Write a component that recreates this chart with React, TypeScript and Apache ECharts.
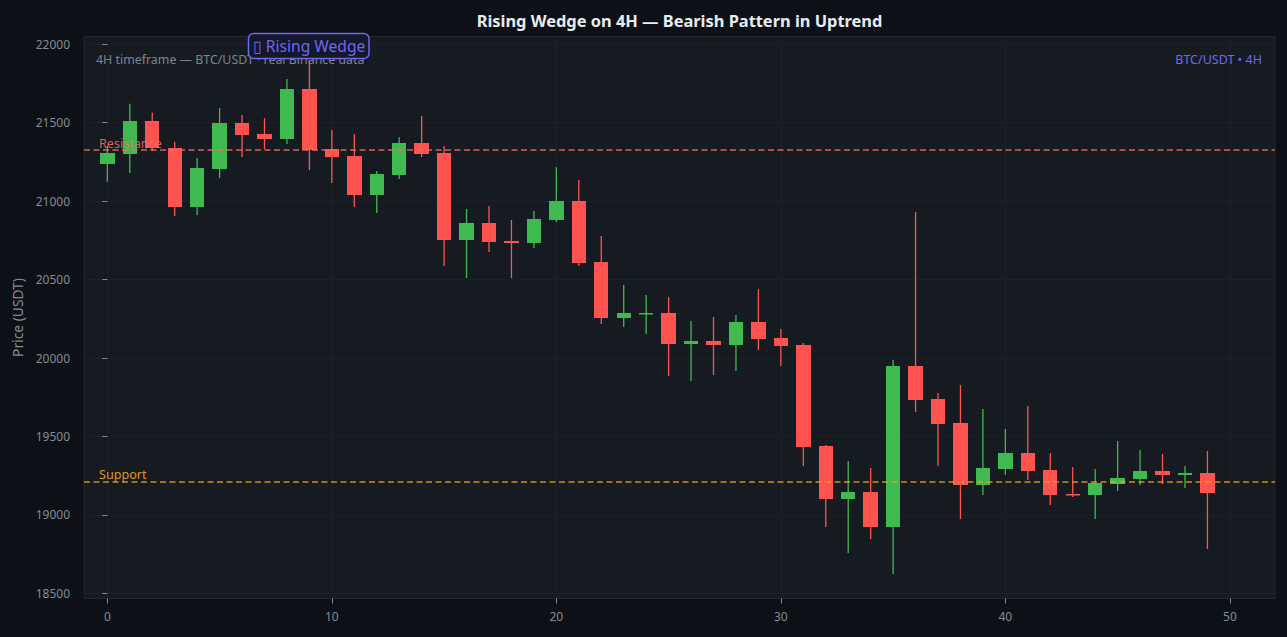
import React, { useEffect, useRef } from 'react';
import * as echarts from 'echarts';

const xTicks = [0, 10, 20, 30, 40, 50];
const yTicks = [18500, 19000, 19500, 20000, 20500, 21000, 21500, 22000];

const opens = [
  21237, 21301, 21509, 21337, 20962, 21204, 21497, 21427, 21395, 21713,
  21331, 21286, 21038, 21165, 21369, 21306, 20751, 20860, 20745, 20732,
  20879, 21000, 20611, 20255, 20280, 20287, 20089, 20108, 20083, 20229,
  20127, 20083, 19439, 19102, 19146, 18924, 19949, 19739, 19586, 19191,
  19293, 19395, 19287, 19134, 19127, 19197, 19229, 19280, 19255, 19267,
];
const closes = [
  21304, 21509, 21337, 20962, 21210, 21497, 21420, 21395, 21713, 21325,
  21280, 21038, 21172, 21369, 21299, 20751, 20860, 20739, 20732, 20885,
  21000, 20605, 20255, 20287, 20287, 20089, 20108, 20083, 20229, 20121,
  20076, 19433, 19102, 19146, 18924, 19949, 19732, 19580, 19191, 19299,
  19395, 19280, 19127, 19127.5, 19204, 19236, 19280, 19255, 19267, 19140,
];
const lows = [
  21123, 21178, 21318, 20904, 20911, 21146, 21280, 21331, 21363, 21197,
  21114, 20962, 20923, 21140, 21280, 20586, 20509, 20675, 20509, 20700,
  20866, 20586, 20216, 20197, 20153, 19885, 19853, 19892, 19917, 20051,
  19949, 19312, 18924, 18758, 18847, 18624, 19656, 19312, 18974, 19127,
  19255, 19223, 19064, 19115, 18974, 19153, 19191, 19197, 19172, 18783,
];
const highs = [
  21350, 21620, 21562, 21377, 21274, 21592, 21548, 21528, 21777, 21898,
  21452, 21427, 21191, 21407, 21541, 21350, 20949, 20968, 20879, 20936,
  21216, 21134, 20777, 20465, 20401, 20388, 20236, 20261, 20274, 20439,
  20185, 20095, 19446, 19344, 19299, 19987, 20930, 19777, 19828, 19675,
  19548, 19694, 19395, 19306, 19293, 19471, 19414, 19388, 19312, 19408,
];

const resistance = 21325;
const support = 19210;

const muted = '#858a90';
const up = '#3fb950';
const down = '#ff5350';
const accent = '#7066f0';

// one candle: thin wick plus a body snapped to whole pixels
const renderCandle = (_params: any, api: any) => {
  const x = api.coord([api.value(0), api.value(1)])[0];
  const yOpen = api.coord([api.value(0), api.value(1)])[1];
  const yClose = api.coord([api.value(0), api.value(2)])[1];
  const yLow = api.coord([api.value(0), api.value(3)])[1];
  const yHigh = api.coord([api.value(0), api.value(4)])[1];
  const color = api.value(2) >= api.value(1) ? up : down;
  const left = Math.round(x - 7.2);
  const right = Math.round(x + 7.2);
  const top = Math.round(Math.min(yOpen, yClose));
  const bottom = Math.max(Math.round(Math.max(yOpen, yClose)), top + 1.5);
  return {
    type: 'group',
    children: [
      {
        type: 'line',
        shape: { x1: x, y1: yHigh, x2: x, y2: yLow },
        style: { stroke: color, lineWidth: 1.3 },
      },
      {
        type: 'rect',
        shape: { x: left, y: top, width: right - left, height: bottom - top },
        style: { fill: color },
      },
    ],
  };
};

export default function App() {
  const ref = useRef<HTMLDivElement | null>(null);

  useEffect(() => {
    if (!ref.current) return;
    const chart = echarts.init(ref.current, undefined, { renderer: 'svg' });
    const font = 'Noto Sans';
    chart.setOption({
      animation: false,
      backgroundColor: '#0d1117',
      textStyle: { fontFamily: font },
      title: {
        text: 'Rising Wedge on 4H — Bearish Pattern in Uptrend',
        left: 674.5,
        top: 7,
        textAlign: 'center',
        textStyle: { color: '#e6edf3', fontSize: 16.4, fontWeight: 'bold', fontFamily: font },
      },
      grid: {
        left: 84,
        right: 12,
        top: 36.5,
        bottom: 38.5,
        show: true,
        backgroundColor: '#161b22',
        borderColor: '#21262d',
        borderWidth: 1,
      },
      xAxis: {
        type: 'value',
        min: -1.04,
        max: 52.01,
        axisLine: { show: false },
        axisTick: { show: true, length: 5, customValues: xTicks, lineStyle: { color: muted } },
        axisLabel: { color: muted, fontSize: 12, margin: 12, customValues: xTicks, fontFamily: font },
        splitLine: { show: true, lineStyle: { color: '#1c2128' } },
      },
      yAxis: {
        type: 'value',
        min: 18468,
        max: 22048,
        name: 'Price (USDT)',
        nameLocation: 'middle',
        nameGap: 57,
        nameTextStyle: { color: muted, fontSize: 13.8, fontFamily: font },
        axisLine: { show: false },
        axisTick: { show: true, length: 5, customValues: yTicks, lineStyle: { color: muted } },
        axisLabel: {
          color: muted,
          fontSize: 12,
          margin: 14,
          customValues: yTicks,
          fontFamily: font,
          formatter: (v: number) => String(v),
        },
        splitLine: { show: true, lineStyle: { color: '#1c2128' } },
      },
      series: [
        {
          type: 'custom',
          renderItem: renderCandle,
          encode: { x: 0, y: [1, 2, 3, 4] },
          data: opens.map((o, i) => [i, o, closes[i], lows[i], highs[i]]),
          markLine: {
            silent: true,
            symbol: 'none',
            animation: false,
            data: [
              {
                yAxis: resistance,
                lineStyle: { color: '#ff6b66', opacity: 0.85, type: [6, 3.5], width: 1.5 },
                label: {
                  show: true,
                  formatter: 'Resistance',
                  position: 'insideStartTop',
                  color: '#ff6b66',
                  opacity: 0.85,
                  fontSize: 12.6,
                  distance: [15, 0],
                  fontFamily: font,
                },
              },
              {
                yAxis: support,
                lineStyle: { color: '#f0a020', opacity: 0.85, type: [6, 3.5], width: 1.5 },
                label: {
                  show: true,
                  formatter: 'Support',
                  position: 'insideStartTop',
                  color: '#f0a020',
                  opacity: 0.95,
                  fontSize: 12.6,
                  distance: [15, 1],
                  fontFamily: font,
                },
              },
            ],
          },
        },
      ],
      graphic: [
        {
          type: 'text',
          x: 96,
          y: 59,
          z: 10,
          style: {
            text: '4H timeframe — BTC/USDT · real Binance data',
            fill: '#7f8489',
            font: `12.4px "${font}"`,
            textVerticalAlign: 'middle',
          },
        },
        {
          type: 'text',
          x: 1262,
          y: 59,
          z: 10,
          style: {
            text: 'BTC/USDT • 4H',
            fill: accent,
            font: `12.5px "${font}"`,
            textAlign: 'right',
            textVerticalAlign: 'middle',
          },
        },
        {
          type: 'rect',
          z: 20,
          shape: { x: 248.5, y: 33.5, width: 120.5, height: 25, r: 5 },
          style: { fill: '#14182a', stroke: accent, lineWidth: 1.5 },
        },
        {
          type: 'text',
          x: 309,
          y: 46,
          z: 21,
          style: {
            text: '▯ Rising Wedge',
            fill: accent,
            font: `15.6px "${font}"`,
            textAlign: 'center',
            textVerticalAlign: 'middle',
          },
        },
      ],
    });
    return () => chart.dispose();
  }, []);

  return <div ref={ref} style={{ position: 'fixed', left: 0, top: 0, width: 1287, height: 637 }} />;
}
